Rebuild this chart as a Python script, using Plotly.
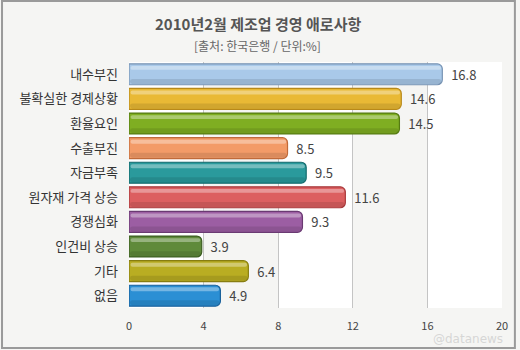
import plotly.graph_objects as go

# 2010년 2월 제조업 경영 애로사항 (출처: 한국은행, 단위: %)
categories = ["내수부진", "불확실한 경제상황", "환율요인", "수출부진", "자금부족",
              "원자재 가격 상승", "경쟁심화", "인건비 상승", "기타", "없음"]
values = [16.8, 14.6, 14.5, 8.5, 9.5, 11.6, 9.3, 3.9, 6.4, 4.9]
tick_vals = [0, 4, 8, 12, 16, 20]

fill_colors = ["#a9c9e9", "#e9b935", "#7fae22", "#f39b68", "#2a9a9c",
               "#dc5f60", "#9c5ea3", "#5f8a3a", "#b9ad22", "#2b8fd4"]
edge_colors = ["#7894b4", "#b8891a", "#557a12", "#c06a3a", "#136a6c",
               "#a83a3c", "#6a3a72", "#3d5e22", "#877d10", "#1a609a"]

W, H = 520, 350
L, R, T, B = 129, 15, 62, 42
pw, ph = W - L - R, H - T - B
font_kr = "Noto Sans CJK KR, Noto Sans, sans-serif"


def px_x(x):
    return (x - L) / pw


def px_y(y):
    return (H - B - y) / ph


fig = go.Figure()

# main bars
fig.add_trace(go.Bar(
    x=values, y=categories, orientation="h",
    marker=dict(color=fill_colors, line=dict(color=edge_colors, width=1.2)),
    width=0.85,
    text=[f"  {v:.1f}" for v in values], textposition="outside",
    textfont=dict(size=13, color="#444444", family=font_kr),
    cliponaxis=False, hoverinfo="skip",
))
# glossy highlight strip along the upper part of each bar
fig.add_trace(go.Bar(
    x=[v - 0.15 for v in values], y=categories, orientation="h",
    marker=dict(color="rgba(255,255,255,0.35)", line=dict(width=0)),
    width=0.16, offset=-0.34, base=0.08, hoverinfo="skip",
))
# darker shade along the lower part
fig.add_trace(go.Bar(
    x=[v - 0.1 for v in values], y=categories, orientation="h",
    marker=dict(color="rgba(0,0,0,0.10)", line=dict(width=0)),
    width=0.2, offset=0.19, base=0.05, hoverinfo="skip",
))

shapes = []
# alternating column bands
for x0, x1 in [(4, 8), (12, 16)]:
    shapes.append(dict(type="rect", xref="x", yref="paper", x0=x0, x1=x1, y0=0, y1=1,
                       fillcolor="#f5f5f3", line=dict(width=0), layer="below"))
# outer frame around the whole figure
shapes.append(dict(type="rect", xref="paper", yref="paper",
                   x0=px_x(1), x1=px_x(518), y0=px_y(348), y1=px_y(1),
                   line=dict(color="#9a9a9a", width=2), fillcolor="rgba(0,0,0,0)",
                   layer="below"))

fig.update_layout(
    width=W, height=H,
    margin=dict(l=L, r=R, t=T, b=B),
    paper_bgcolor="#f5f5f3", plot_bgcolor="#ffffff",
    barmode="overlay", barcornerradius=5, showlegend=False,
    font=dict(family=font_kr, color="#444444"),
    shapes=shapes,
    xaxis=dict(range=[0, 20], tickvals=tick_vals, showgrid=True, gridcolor="#c4c4c4",
               gridwidth=1, zeroline=False, showline=False, ticks="",
               tickfont=dict(size=11, color="#444444"), ticklabelstandoff=10,
               fixedrange=True),
    yaxis=dict(autorange="reversed", showgrid=False, showline=False, ticks="",
               tickfont=dict(size=13, color="#333333"), ticklabelstandoff=10,
               fixedrange=True),
    annotations=[
        dict(text="<b>2010년2월 제조업 경영 애로사항</b>", xref="paper", yref="paper",
             x=px_x(259), y=px_y(23), showarrow=False,
             xanchor="center", yanchor="middle",
             font=dict(size=15, color="#555555", family=font_kr)),
        dict(text="[출처: 한국은행 / 단위:%]", xref="paper", yref="paper",
             x=px_x(259), y=px_y(45), showarrow=False,
             xanchor="center", yanchor="middle",
             font=dict(size=12, color="#666666", family=font_kr)),
        dict(text="@datanews", xref="paper", yref="paper",
             x=px_x(508), y=px_y(339), showarrow=False,
             xanchor="right", yanchor="middle",
             font=dict(size=12, color="rgba(200,200,200,0.7)", family="DejaVu Sans")),
    ],
)

fig.write_html("out.html")
